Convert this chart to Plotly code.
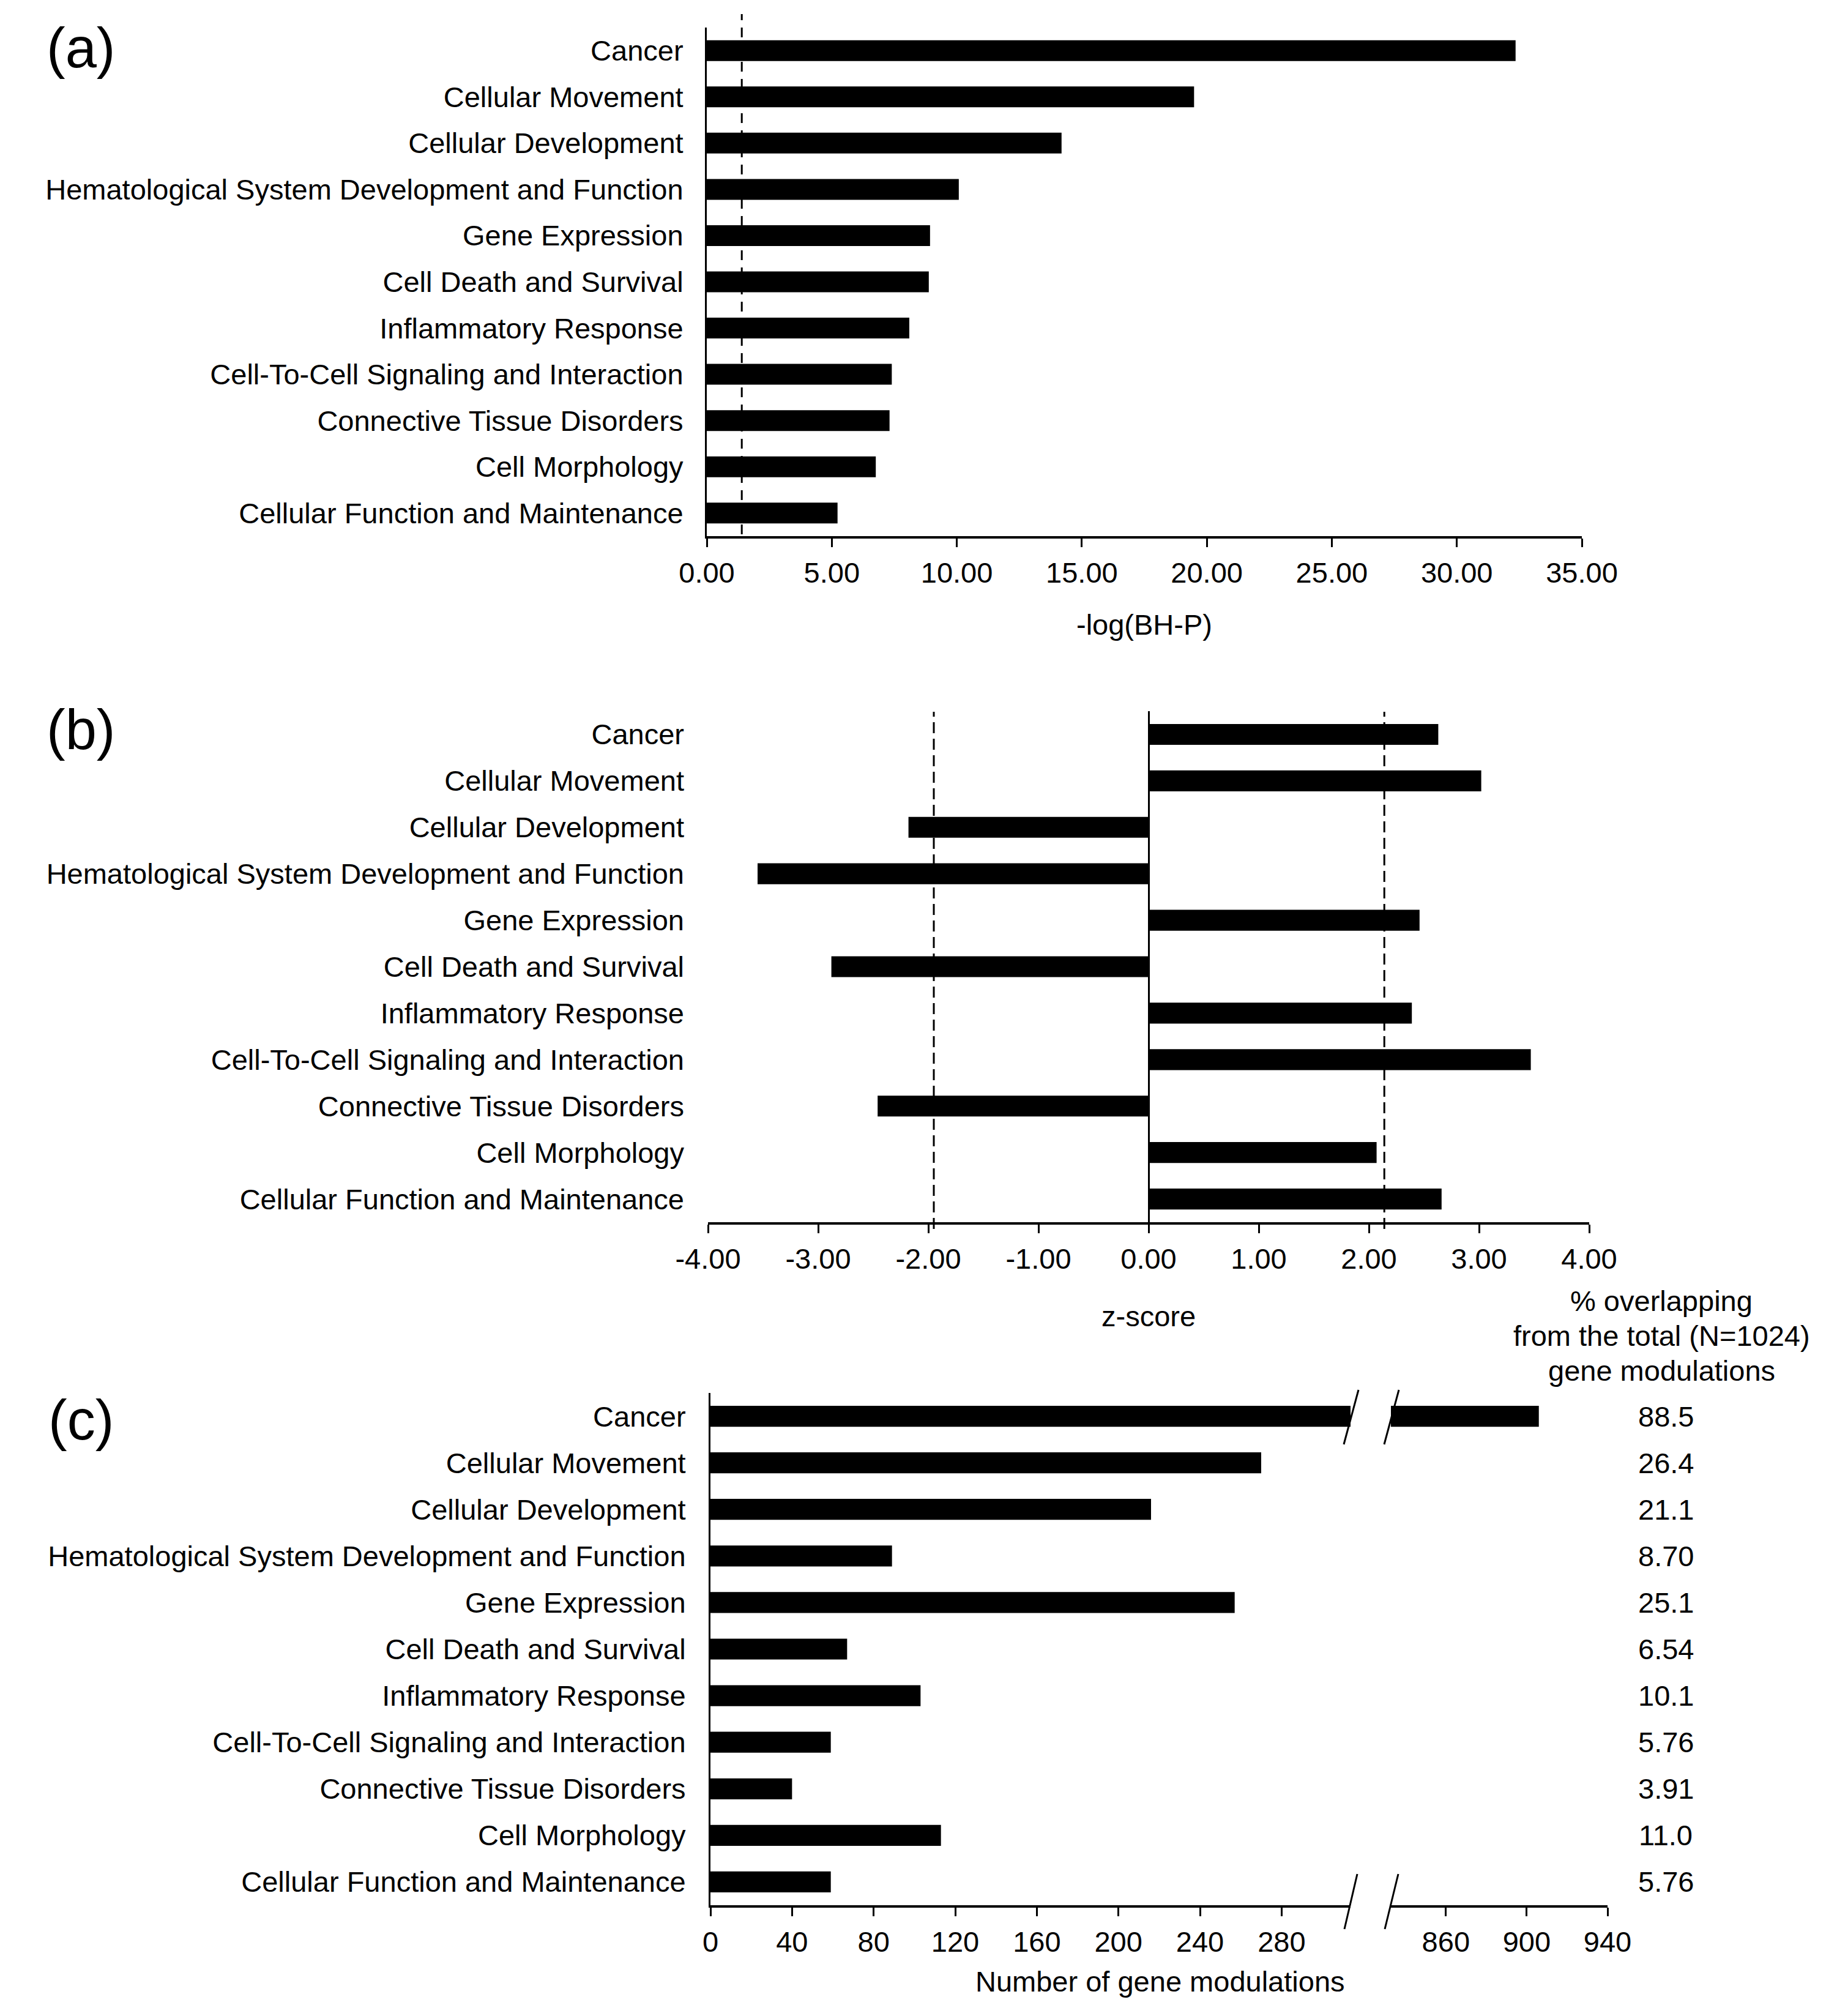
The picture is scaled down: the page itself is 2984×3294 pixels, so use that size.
import plotly.graph_objects as go

# ---------------- data ----------------
CATEGORIES = [
    "Cancer",
    "Cellular Movement",
    "Cellular Development",
    "Hematological System Development and Function",
    "Gene Expression",
    "Cell Death and Survival",
    "Inflammatory Response",
    "Cell-To-Cell Signaling and Interaction",
    "Connective Tissue Disorders",
    "Cell Morphology",
    "Cellular Function and Maintenance",
]
NEG_LOG_BHP = [32.35, 19.49, 14.19, 10.08, 8.93, 8.88, 8.10, 7.40, 7.31, 6.76, 5.23]
BHP_THRESHOLD = 1.4
Z_SCORES = [2.63, 3.02, -2.18, -3.55, 2.46, -2.88, 2.39, 3.47, -2.46, 2.07, 2.66]
Z_THRESHOLDS = [-1.95, 2.14]
GENE_COUNTS = [906, 270, 216, 89, 257, 67, 103, 59, 40, 113, 59]
PCT_OVERLAP = ["88.5", "26.4", "21.1", "8.70", "25.1", "6.54", "10.1", "5.76", "3.91", "11.0", "5.76"]
PCT_HEADER = ["% overlapping", "from the total (N=1024)", "gene modulations"]

A_TICKVALS = [0, 5, 10, 15, 20, 25, 30, 35]
A_TICKTEXT = ["0.00", "5.00", "10.00", "15.00", "20.00", "25.00", "30.00", "35.00"]
Z_TICKVALS = [-4, -3, -2, -1, 0, 1, 2, 3, 4]
Z_TICKTEXT = ["-4.00", "-3.00", "-2.00", "-1.00", "0.00", "1.00", "2.00", "3.00", "4.00"]
C_LEFT_TICKS = [0, 40, 80, 120, 160, 200, 240, 280]
C_RIGHT_TICKS = [860, 900, 940]
C_LEFT_RANGE = [0, 313.8]
C_RIGHT_RANGE = [832.8, 940]

# ---------------- layout helpers ----------------
W, H = 2984, 3294
OFF = 8  # page body margin
FONT = "Liberation Sans, Arial, sans-serif"
FS = 47


def px(x):
    return (x - OFF) / W


def py(y):
    return 1 - (y - OFF) / H


fig = go.Figure()

bar_style = dict(orientation="h", marker=dict(color="black", line=dict(width=0)),
                 width=0.45, showlegend=False, hoverinfo="x+y")

fig.add_trace(go.Bar(x=NEG_LOG_BHP, y=CATEGORIES, xaxis="x", yaxis="y", **bar_style))
fig.add_trace(go.Bar(x=Z_SCORES, y=CATEGORIES, xaxis="x2", yaxis="y2", **bar_style))
fig.add_trace(go.Bar(x=GENE_COUNTS, y=CATEGORIES, xaxis="x3", yaxis="y3", **bar_style))
fig.add_trace(go.Bar(x=GENE_COUNTS, y=CATEGORIES, xaxis="x4", yaxis="y3", **bar_style))

xcommon = dict(showline=True, linecolor="black", linewidth=4, ticks="outside",
               ticklen=14, tickwidth=3, tickcolor="black", showgrid=False,
               zeroline=False, tickfont=dict(family=FONT, size=FS, color="black"),
               ticklabelstandoff=2, fixedrange=True, automargin=False)
ycommon = dict(type="category", categoryorder="array", categoryarray=CATEGORIES,
               range=[10.5, -0.5], showgrid=False, zeroline=False, ticks="",
               tickfont=dict(family=FONT, size=FS, color="black"), fixedrange=True,
               automargin=False)

fig.update_layout(
    template="none",
    width=W, height=H,
    margin=dict(l=0, r=0, t=0, b=0, pad=0, autoexpand=False),
    paper_bgcolor="white", plot_bgcolor="white",
    font=dict(family=FONT, size=FS, color="black"),
    barmode="overlay",
    xaxis=dict(domain=[px(1155), px(2585)], range=[0, 35], anchor="y",
               tickvals=A_TICKVALS, ticktext=A_TICKTEXT, **xcommon),
    yaxis=dict(domain=[py(876), py(45)], anchor="x", showline=True, linecolor="black",
               linewidth=3, ticklabelstandoff=26, **ycommon),
    xaxis2=dict(domain=[px(1157), px(2597)], range=[-4, 4], anchor="y2",
                tickvals=Z_TICKVALS, ticktext=Z_TICKTEXT,
                **{**xcommon, "zeroline": True}, zerolinecolor="black", zerolinewidth=3),
    yaxis2=dict(domain=[py(1997), py(1162)], anchor="x2", showline=False,
                ticklabelstandoff=38, **ycommon),
    xaxis3=dict(domain=[px(1161), px(2207)], range=C_LEFT_RANGE, anchor="y3",
                tickvals=C_LEFT_TICKS, ticktext=[str(v) for v in C_LEFT_TICKS], **xcommon),
    xaxis4=dict(domain=[px(2273), px(2627)], range=C_RIGHT_RANGE, anchor="y3",
                tickvals=C_RIGHT_TICKS, ticktext=[str(v) for v in C_RIGHT_TICKS], **xcommon),
    yaxis3=dict(domain=[py(3113), py(2276)], anchor="x3", showline=True, linecolor="black",
                linewidth=3, ticklabelstandoff=28, **ycommon),
)

shapes = []
# threshold lines
shapes.append(dict(type="line", xref="x", x0=BHP_THRESHOLD, x1=BHP_THRESHOLD,
                   yref="paper", y0=py(873), y1=py(23),
                   line=dict(color="black", width=3, dash="16px,12px")))
for zt in Z_THRESHOLDS:
    shapes.append(dict(type="line", xref="x2", x0=zt, x1=zt,
                       yref="paper", y0=py(2008), y1=py(1163),
                       line=dict(color="black", width=3, dash="18px,9px")))
# axis-break slashes
for (x0, y0, x1, y1) in [(2220, 2271, 2196, 2360), (2286, 2271, 2262, 2360),
                         (2218, 3062, 2197, 3152), (2285, 3062, 2263, 3152)]:
    shapes.append(dict(type="line", xref="paper", yref="paper",
                       x0=px(x0), y0=py(y0), x1=px(x1), y1=py(y1),
                       line=dict(color="black", width=3)))
fig.update_layout(shapes=shapes)

ann = []
txt = dict(family=FONT, size=FS, color="black")
# panel letters
for lab, yc in [("(a)", 78), ("(b)", 1192), ("(c)", 2320)]:
    ann.append(dict(text=lab, x=px(132), y=py(yc), xref="paper", yref="paper",
                    xanchor="center", yanchor="middle", showarrow=False,
                    font=dict(family=FONT, size=92, color="black")))
# axis titles
for t, xc, yc in [("-log(BH-P)", 1870, 1020), ("z-score", 1877, 2150),
                  ("Number of gene modulations", 1896, 3237)]:
    ann.append(dict(text=t, x=px(xc), y=py(yc), xref="paper", yref="paper",
                    xanchor="center", yanchor="middle", showarrow=False, font=txt))
# percentage header
for t, yc in zip(PCT_HEADER, [2125, 2182, 2239]):
    ann.append(dict(text=t, x=px(2715), y=py(yc), xref="paper", yref="paper",
                    xanchor="center", yanchor="middle", showarrow=False, font=txt))
# percentage values
for cat, p in zip(CATEGORIES, PCT_OVERLAP):
    ann.append(dict(text=p, x=px(2722), y=cat, xref="paper", yref="y3",
                    xanchor="center", yanchor="middle", showarrow=False, font=txt))
fig.update_layout(annotations=ann)

fig.write_html("out.html")
